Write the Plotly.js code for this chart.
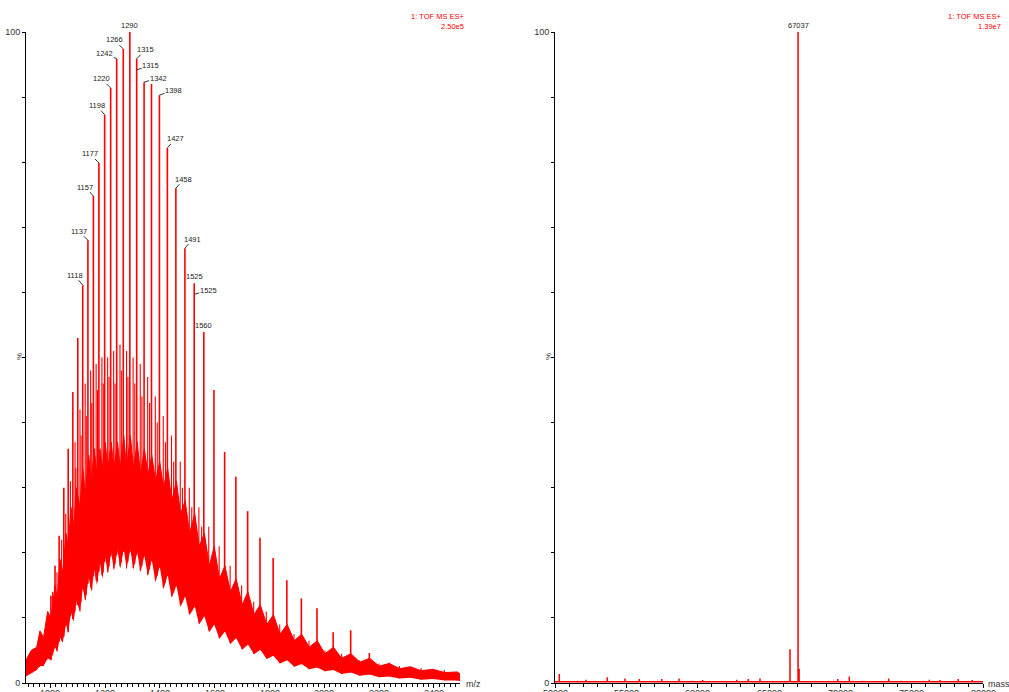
<!DOCTYPE html>
<html><head><meta charset="utf-8">
<script src="https://cdn.plot.ly/plotly-3.0.1.min.js"></script>
<style>html,body{margin:0;padding:0;background:#fff;}#chart{width:1009px;height:692px;}</style>
</head><body><div id="chart"></div>
<script>
// ---------- Left panel: ESI spectrum (m/z, % intensity) ----------
const mzMain  = [932, 945, 959, 973, 987, 1002, 1017, 1032, 1049, 1065, 1082, 1100,
                 1118, 1137, 1157, 1177, 1198, 1220, 1242, 1266, 1290, 1315, 1342, 1369, 1398, 1427, 1458, 1491, 1525, 1560,
                 1597, 1636, 1677, 1720, 1765, 1813, 1863, 1916, 1973, 2032, 2096, 2164, 2236, 2313, 2395, 2484];
const pctMain = [3.5, 4.2, 4.8, 6.3, 8.6, 13.4, 18, 22.6, 30, 36, 44.7, 53,
                 61.1, 68, 74.8, 79.9, 87.3, 91.4, 95.9, 97.4, 100, 95.9, 92.3, 92.0, 90.3, 82.2, 76.0, 66.8, 61.4, 53.9,
                 45, 35.5, 31.7, 26.4, 22.3, 19.2, 15.8, 13, 11.5, 7.8, 8.1, 4.6, 3.1, 2.0, 1.5, 1.2];
const mzMinor  = [1008, 1024, 1041, 1056, 1073, 1090, 1093, 1108, 1112, 1127, 1131, 1147, 1151, 1167, 1172, 1188, 1193,
                  1209, 1214, 1231, 1236, 1254, 1259, 1278, 1283, 1302, 1308, 1328, 1334, 1355, 1362, 1383, 1390,
                  1412, 1420, 1442, 1450, 1474, 1482, 1507, 1516, 1542, 1552, 1578, 1616, 1656, 1698, 1742, 1788,
                  1837, 1889, 1944, 2002, 2063, 2129, 2199, 2274, 2353, 2438];
const pctMinor = [14, 17, 22, 26, 31, 37, 33, 42, 38, 46, 41, 48, 43, 49, 45, 50, 46,
                  50, 47, 51, 46, 52, 48, 51, 47, 50, 46, 49, 44, 47, 43, 44, 40,
                  41, 37, 38, 34, 34, 30, 30, 27, 27, 24, 24, 21, 18, 15, 12.5, 11,
                  9, 7.5, 6.5, 5, 4.5, 3.5, 3, 2.6, 2.3, 2];
// dense noise band: lower and upper edge
const envMz   = [911, 930, 950, 962, 975, 990, 1002, 1017, 1025, 1035, 1045, 1057, 1065, 1075, 1085, 1095, 1108, 1118, 1128,
                 1140, 1150, 1160, 1170, 1181, 1190, 1200, 1210, 1222, 1232, 1245, 1255, 1268, 1278, 1292, 1303, 1317, 1329,
                 1343, 1356, 1370, 1384, 1399, 1413, 1428, 1443, 1460, 1475, 1492, 1508, 1527, 1543, 1562, 1580, 1598, 1617,
                 1637, 1657, 1678, 1700, 1721, 1743, 1766, 1790, 1814, 1838, 1864, 1890, 1917, 1945, 1974, 2002, 2033, 2063,
                 2097, 2130, 2165, 2200, 2237, 2275, 2314, 2353, 2396, 2440, 2485, 2495];
const envLow  = [1.0, 1.5, 2.0, 2.6, 2.6, 3.8, 3.5, 5.5, 4.8, 7.0, 6.2, 9.0, 7.8, 10.8, 9.4, 12.6, 11.0, 14.5, 12.6,
                 16.2, 14.0, 17.4, 15.0, 18.4, 16.0, 19.3, 16.8, 20.0, 17.3, 20.4, 17.6, 20.6, 17.6, 20.5, 17.4, 20.1, 17.0,
                 19.6, 16.4, 18.9, 15.5, 17.9, 14.4, 16.6, 13.1, 15.0, 11.7, 13.3, 10.4, 11.8, 9.0, 10.3, 7.8, 9.0, 6.8,
                 7.9, 6.0, 6.9, 5.1, 5.9, 4.4, 5.1, 3.7, 4.2, 3.0, 3.5, 2.5, 2.9, 2.1, 2.4, 1.8, 2.0, 1.4,
                 1.6, 1.1, 1.3, 0.9, 1.0, 0.7, 0.8, 0.5, 0.6, 0.4, 0.4, 0.3];
const envHigh = [3.5, 5, 5.5, 8, 7, 11, 10, 15, 13, 19, 17, 23, 21, 27, 24, 30, 27, 33, 29,
                 35, 31, 36, 32, 36, 33, 37, 33, 37, 33, 37, 33, 38, 33, 38, 33, 37, 32,
                 36, 32, 35, 31, 34, 30, 33, 28, 31, 26, 28, 23, 26, 21, 23, 18, 21, 16,
                 18, 14, 16, 12, 14, 10.5, 12, 9, 10.5, 7.5, 9, 6.5, 7.5, 5.5, 6.5, 4.5, 5.5, 3.8,
                 4.5, 3.2, 3.8, 2.6, 3.0, 2.2, 2.5, 1.9, 2.1, 1.6, 1.7, 1.4];
// peak labels
const labelText = ['1118','1137','1157','1177','1198','1220','1242','1266','1290','1315','1315','1342','1398','1427','1458','1491','1525','1525','1560'];
const labelMz   = [1118, 1137, 1157, 1177, 1198, 1220, 1242, 1266, 1290, 1315, 1315, 1342, 1398, 1427, 1458, 1491, 1525, 1525, 1560];
const labelPct  = [61.1, 68, 74.8, 79.9, 87.3, 91.4, 95.9, 97.4, 100, 95.9, 94.2, 92.3, 90.3, 82.2, 76.0, 66.8, 61.4, 59.7, 53.9];
const mzTickVals = [1000, 1200, 1400, 1600, 1800, 2000, 2200, 2400];

// ---------- Right panel: deconvoluted mass spectrum ----------
const massPeaks = [50301, 51594, 52173, 53666, 54672, 54906, 55909, 57478, 58691, 59624, 60351, 62734, 63551, 64369,
                   66472, 67037, 67110, 69815, 70628, 71540, 72547, 73388, 74251, 76235, 76985, 78269, 79250];
const massPct   = [1.4, 0.35, 0.5, 0.9, 0.3, 0.7, 0.6, 0.6, 0.7, 0.35, 0.45, 0.5, 0.6, 0.7,
                   5.2, 100, 2.2, 0.6, 1.0, 0.35, 0.3, 0.7, 0.35, 0.5, 0.45, 0.6, 0.45];
const massBase  = 0.2;
const massLabelText = ['67037'];
const massLabelX    = [67037];
const massLabelPct  = [100];
const massTickVals  = [50000, 55000, 60000, 65000, 70000, 75000, 80000];

// ---------- layout-only settings ----------
const labelAx = [-8, -9, -8, -9, -8, -9, -12, -9, 0, 9, 14, 14, 14, 8, 8, 8, 0, 14, 0];
const labelAy = [-10, -9, -9, -9, -9, -9, -5, -9, 0, -9, -4, -4, -5, -9, -9, -9, 0, -4, 0];

const RED = '#ff0000';
function lowAt(m){
  for (let i=0;i<envMz.length-1;i++){
    if (m>=envMz[i] && m<=envMz[i+1]){
      const t=(m-envMz[i])/(envMz[i+1]-envMz[i]);
      return envLow[i]+t*(envLow[i+1]-envLow[i]);
    }
  }
  return envLow[envLow.length-1];
}
function spikes(xs, ys){
  const X=[],Y=[];
  xs.forEach((m,i)=>{X.push(m,m,null);Y.push(lowAt(m),ys[i],null);});
  return {X,Y};
}
const sMinor = spikes(mzMinor, pctMinor);
const sMain  = spikes(mzMain, pctMain);

const rX=[50000], rY=[massBase];
massPeaks.forEach((m,i)=>{rX.push(m,m,m);rY.push(massBase,massPct[i],massBase);});
rX.push(80000); rY.push(massBase);

const traces = [
  {x: envMz, y: envLow, xaxis:'x', yaxis:'y', mode:'lines', line:{width:0,color:RED}, hoverinfo:'skip'},
  {x: envMz, y: envHigh, xaxis:'x', yaxis:'y', mode:'lines', fill:'tonexty', fillcolor:RED, line:{width:1,color:RED}, hoverinfo:'skip'},
  {x: sMinor.X, y: sMinor.Y, xaxis:'x', yaxis:'y', mode:'lines', line:{width:1.1,color:RED}, connectgaps:false},
  {x: sMain.X, y: sMain.Y, xaxis:'x', yaxis:'y', mode:'lines', line:{width:1.6,color:RED}, connectgaps:false},
  {x: rX, y: rY, xaxis:'x2', yaxis:'y2', mode:'lines', line:{width:1.5,color:RED}}
];

const FONT = 'Liberation Sans, Arial, sans-serif';
const yDom = [9/692, 660/692];
function yTicks(){
  return {tickmode:'array', tickvals:[0,10,20,30,40,50,60,70,80,90,100],
          ticktext:['0','','','','','','','','','','100']};
}
const axisBase = {showline:true, linecolor:'#000', linewidth:1, ticks:'outside', tickcolor:'#000',
                  tickwidth:1, showgrid:false, zeroline:false, fixedrange:true,
                  tickfont:{family:FONT, size:9, color:'#333'}};

function paperY(px){return (692-px)/692;}
const annotations = [];
labelText.forEach((t,i)=>{
  if (labelAx[i]===0 && labelAy[i]===0){
    annotations.push({xref:'x', yref:'y', x:labelMz[i], y:labelPct[i], text:t, showarrow:false,
      yanchor:'bottom', xanchor:'center', font:{family:FONT,size:7.5,color:'#222'}});
  } else {
    annotations.push({xref:'x', yref:'y', x:labelMz[i], y:labelPct[i], text:t, showarrow:true,
      arrowhead:0, arrowwidth:0.8, arrowcolor:'#000', standoff:0, ax:labelAx[i], ay:labelAy[i],
      borderpad:0, font:{family:FONT,size:7.5,color:'#222'}});
  }
});
massLabelText.forEach((t,i)=>{
  annotations.push({xref:'x2', yref:'y2', x:massLabelX[i], y:massLabelPct[i], text:t, showarrow:false,
    yanchor:'bottom', xanchor:'center', font:{family:FONT,size:7.5,color:'#222'}});
});
// x tick labels (partly below the picture edge, as in the reference)
mzTickVals.forEach(v=>{
  annotations.push({xref:'x', yref:'paper', x:v, y:paperY(686), text:String(v), showarrow:false,
    xanchor:'center', yanchor:'top', font:{family:FONT,size:9,color:'#333'}});
});
massTickVals.forEach(v=>{
  annotations.push({xref:'x2', yref:'paper', x:v, y:paperY(686), text:String(v), showarrow:false,
    xanchor:'center', yanchor:'top', font:{family:FONT,size:9,color:'#333'}});
});
function hdr(xpx, ypx, text){
  annotations.push({xref:'paper', yref:'paper', x:xpx/1009, y:paperY(ypx), text:text, showarrow:false,
    xanchor:'right', yanchor:'middle', font:{family:FONT,size:7.5,color:RED}});
}
hdr(466, 17, '1: TOF MS ES+'); hdr(466, 26, '2.50e5');
hdr(1003, 17, '1: TOF MS ES+'); hdr(1003, 26, '1.39e7');
[[19, 357],[548, 357]].forEach(p=>{
  annotations.push({xref:'paper', yref:'paper', x:p[0]/1009, y:paperY(p[1]), text:'%', textangle:-90,
    showarrow:false, xanchor:'center', yanchor:'middle', font:{family:FONT,size:8,color:'#333'}});
});
annotations.push({xref:'paper', yref:'paper', x:464/1009, y:paperY(684), text:'m/z', showarrow:false,
  xanchor:'left', yanchor:'middle', font:{family:FONT,size:9,color:'#333'}});
annotations.push({xref:'paper', yref:'paper', x:986/1009, y:paperY(684), text:'mass', showarrow:false,
  xanchor:'left', yanchor:'middle', font:{family:FONT,size:9,color:'#333'}});

const layout = {
  width:1009, height:692, margin:{l:0,r:0,t:0,b:0,pad:0}, showlegend:false,
  paper_bgcolor:'#fff', plot_bgcolor:'#fff',
  xaxis: Object.assign({}, axisBase, {domain:[26/1009, 460/1009], range:[911, 2495], anchor:'y',
          tickmode:'linear', tick0:1000, dtick:200, ticklen:4, showticklabels:false,
          minor:{dtick:20, tick0:1000, ticklen:2.5, ticks:'outside', tickcolor:'#000', showgrid:false}}),
  yaxis: Object.assign({}, axisBase, yTicks(), {domain:yDom, range:[0,100], anchor:'x', ticklen:3}),
  xaxis2: Object.assign({}, axisBase, {domain:[555/1009, 983/1009], range:[50000, 80000], anchor:'y2',
          tickmode:'linear', tick0:50000, dtick:5000, ticklen:4, showticklabels:false,
          minor:{dtick:1000, tick0:50000, ticklen:2.5, ticks:'outside', tickcolor:'#000', showgrid:false}}),
  yaxis2: Object.assign({}, axisBase, yTicks(), {domain:yDom, range:[0,100], anchor:'x2', ticklen:3}),
  annotations: annotations
};
Plotly.newPlot('chart', traces, layout, {staticPlot:true, displayModeBar:false});
</script></body></html>
